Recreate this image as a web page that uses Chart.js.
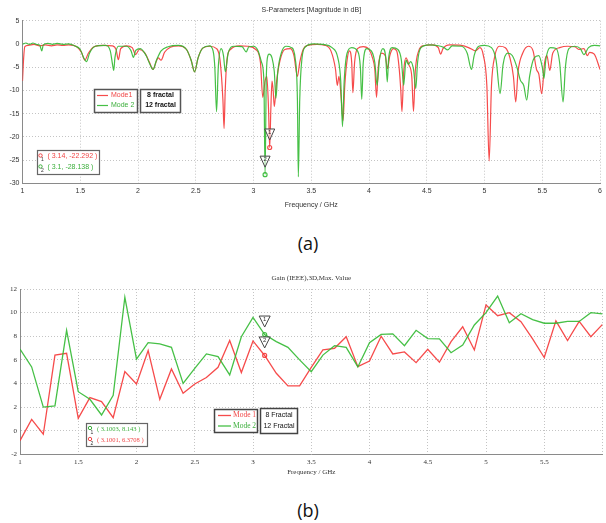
<!DOCTYPE html>
<html><head><meta charset="utf-8">
<script src="https://cdn.jsdelivr.net/npm/chart.js@4.4.1/dist/chart.umd.min.js"></script>
<style>
html,body{margin:0;padding:0;background:#fff;width:606px;height:523px;overflow:hidden;position:relative}
#wa{position:absolute;left:0;top:0;width:606px;height:215px}
#wb{position:absolute;left:0;top:262px;width:606px;height:220px}
.lab{position:absolute;left:5px;width:606px;text-align:center;font:18px/24px "Open Sans",sans-serif;color:#111}
</style></head><body>
<div id="wa"><canvas id="ca" width="606" height="215"></canvas></div>
<div id="wb"><canvas id="cb" width="606" height="220"></canvas></div>
<div class="lab" style="top:231px;">(a)</div>
<div class="lab" style="top:498px;">(b)</div>
<script>
// ---------- Chart (a): S-Parameters, [frequency GHz, dB] ----------
const sMode1 = [
 [1.00,-8.0],[1.01,-3.0],[1.02,-0.6],[1.05,-0.3],[1.10,-0.1],[1.15,-0.4],[1.20,-0.2],[1.25,-0.4],[1.30,-0.2],[1.35,-0.3],
 [1.40,-0.2],[1.47,-0.6],[1.51,-1.8],[1.54,-3.5],[1.57,-2.0],[1.62,-0.6],[1.70,-0.3],[1.78,-0.4],[1.81,-1.2],[1.83,-3.4],
 [1.85,-1.0],[1.90,-0.4],[1.95,-0.8],[1.98,-2.3],[2.01,-1.2],[2.06,-2.0],[2.10,-4.0],[2.13,-5.5],[2.16,-3.6],[2.175,-3.0],
 [2.20,-3.5],[2.23,-1.8],[2.28,-0.7],[2.35,-0.4],[2.42,-1.2],[2.46,-3.5],[2.49,-6.0],[2.52,-3.0],[2.56,-0.9],[2.62,-0.5],
 [2.68,-1.0],[2.71,-3.5],[2.735,-12.0],[2.745,-18.2],[2.755,-10.0],[2.77,-3.5],[2.80,-1.2],[2.88,-0.4],[2.95,-0.5],[3.02,-1.2],
 [3.06,-4.0],[3.08,-11.5],[3.10,-8.0],[3.115,-7.0],[3.13,-14.0],[3.14,-22.3],[3.15,-14.0],[3.16,-8.0],[3.17,-10.0],[3.18,-13.5],
 [3.20,-8.0],[3.23,-3.5],[3.27,-1.2],[3.32,-1.0],[3.35,-2.5],[3.38,-7.0],[3.40,-4.0],[3.43,-1.2],[3.47,-0.3],[3.55,-0.1],
 [3.62,-0.3],[3.67,-1.5],[3.71,-5.5],[3.725,-8.9],[3.74,-7.0],[3.76,-12.0],[3.775,-16.5],[3.79,-9.0],[3.81,-3.5],[3.83,-1.5],
 [3.85,-4.0],[3.86,-10.5],[3.875,-4.0],[3.90,-1.0],[3.95,-0.6],[4.00,-1.2],[4.03,-3.0],[4.05,-5.5],[4.065,-11.5],[4.08,-5.0],
 [4.11,-2.0],[4.14,-2.5],[4.16,-5.3],[4.18,-2.5],[4.21,-1.0],[4.24,-1.5],[4.26,-5.0],[4.275,-10.0],[4.285,-14.6],[4.30,-6.0],
 [4.32,-3.0],[4.345,-4.5],[4.37,-7.0],[4.385,-14.5],[4.40,-6.0],[4.43,-1.5],[4.47,-0.4],[4.55,-0.2],[4.60,-0.8],[4.62,-2.2],
 [4.64,-1.0],[4.70,-0.2],[4.80,-0.3],[4.88,-1.0],[4.92,-1.5],[4.96,-0.8],[4.99,-2.5],[5.02,-9.0],[5.04,-25.2],[5.06,-9.0],
 [5.09,-2.5],[5.13,-0.5],[5.18,-0.8],[5.22,-3.0],[5.25,-7.0],[5.27,-12.5],[5.29,-6.0],[5.33,-2.0],[5.38,-0.5],[5.42,-1.5],
 [5.45,-5.5],[5.47,-6.5],[5.495,-10.7],[5.52,-4.0],[5.54,-2.5],[5.565,-5.7],[5.59,-2.0],[5.65,-0.8],[5.72,-0.5],[5.78,-0.6],
 [5.82,-1.2],[5.86,-1.0],[5.89,-2.5],[5.91,-1.8],[5.95,-2.2],[6.00,-5.5]
];
const sMode2 = [
 [1.00,-0.1],[1.03,0.2],[1.06,-0.1],[1.09,0.2],[1.12,-0.1],[1.15,-0.3],[1.167,-1.5],[1.18,-0.2],[1.22,0.1],[1.26,-0.1],
 [1.30,0.1],[1.35,-0.1],[1.40,0.0],[1.45,-0.4],[1.50,-1.2],[1.53,-3.0],[1.555,-3.8],[1.58,-2.0],[1.63,-0.5],[1.72,-0.3],
 [1.76,-1.5],[1.78,-4.5],[1.79,-5.7],[1.80,-3.0],[1.83,-0.5],[1.90,-0.5],[1.94,-1.5],[1.96,-2.9],[1.98,-1.4],[2.02,-1.0],
 [2.07,-2.5],[2.10,-4.2],[2.13,-5.5],[2.16,-3.5],[2.20,-1.5],[2.26,-0.6],[2.35,-0.3],[2.42,-1.2],[2.46,-3.5],[2.49,-6.0],
 [2.52,-3.0],[2.56,-0.9],[2.62,-0.4],[2.65,-1.5],[2.665,-5.0],[2.68,-14.6],[2.695,-5.0],[2.72,-1.0],[2.74,-2.5],[2.756,-6.0],
 [2.78,-2.0],[2.83,-0.5],[2.90,-0.6],[2.937,-1.7],[2.96,-0.6],[3.00,-0.5],[3.04,-1.5],[3.07,-4.0],[3.09,-8.0],[3.10,-28.1],
 [3.11,-8.0],[3.12,-3.0],[3.135,-2.2],[3.16,-3.0],[3.18,-6.0],[3.194,-11.7],[3.21,-6.0],[3.24,-2.0],[3.28,-0.5],[3.33,-0.8],
 [3.36,-3.0],[3.38,-12.0],[3.388,-28.6],[3.40,-12.0],[3.42,-3.0],[3.45,-0.6],[3.52,0.0],[3.60,-0.1],[3.68,-0.8],[3.73,-3.0],
 [3.755,-8.0],[3.77,-17.8],[3.785,-8.0],[3.81,-2.0],[3.85,-0.8],[3.90,-1.5],[3.925,-5.0],[3.937,-11.9],[3.95,-4.0],[3.98,-1.0],
 [4.02,-1.5],[4.05,-4.0],[4.07,-8.9],[4.09,-3.5],[4.12,-1.0],[4.145,-3.0],[4.158,-8.2],[4.17,-3.0],[4.20,-0.8],[4.25,-1.2],
 [4.28,-3.5],[4.30,-8.9],[4.32,-3.5],[4.34,-4.4],[4.36,-3.8],[4.385,-5.5],[4.405,-9.6],[4.42,-4.0],[4.45,-0.8],[4.52,-0.2],
 [4.60,-0.4],[4.65,-0.8],[4.68,-1.3],[4.72,-0.4],[4.80,-0.5],[4.85,-2.0],[4.887,-5.5],[4.91,-2.5],[4.95,-0.5],[5.00,-0.3],
 [5.06,-0.8],[5.10,-3.5],[5.135,-10.7],[5.16,-4.5],[5.20,-2.0],[5.24,-2.5],[5.28,-5.0],[5.31,-7.8],[5.34,-9.0],[5.365,-12.1],
 [5.39,-7.0],[5.43,-3.0],[5.47,-2.5],[5.50,-5.0],[5.515,-7.4],[5.53,-3.5],[5.57,-0.8],[5.62,-1.0],[5.65,-4.0],[5.68,-12.5],
 [5.70,-5.0],[5.73,-1.0],[5.78,-0.5],[5.83,-1.0],[5.86,-2.3],[5.90,-0.8],[5.95,-0.3],[6.00,-0.4]
];
const markerA_freq = [3.14, 3.1];
const markerA_val  = [-22.292, -28.138];

// ---------- Chart (b): Gain (IEEE) ----------
const gainFreq = [1.0,1.1,1.2,1.3,1.4,1.5,1.6,1.7,1.8,1.9,2.0,2.1,2.2,2.3,2.4,2.5,2.6,2.7,2.8,2.9,3.0,3.1,3.2,3.3,3.4,3.5,3.6,3.7,3.8,3.9,4.0,4.1,4.2,4.3,4.4,4.5,4.6,4.7,4.8,4.9,5.0,5.1,5.2,5.3,5.4,5.5,5.6,5.7,5.8,5.9,6.0];
const gainMode1 = [-0.85,0.96,-0.3,6.4,6.55,1.05,2.8,2.46,1.1,5.0,3.96,6.78,2.66,5.23,3.17,3.95,4.5,5.37,7.63,4.92,7.6,6.37,4.86,3.79,3.8,5.37,6.84,6.98,7.96,5.42,5.9,8.0,6.5,6.67,5.76,6.9,5.8,7.54,8.8,6.84,10.65,9.74,10.0,9.23,7.77,6.2,9.3,7.63,9.25,7.96,9.0];
const gainMode2 = [6.92,5.4,2.0,2.1,8.5,3.3,2.66,1.33,3.0,11.3,6.07,7.45,7.35,7.06,4.0,5.28,6.5,6.27,4.72,7.96,9.6,8.14,7.54,7.06,6.0,5.0,6.4,7.2,7.05,5.4,7.45,8.15,8.2,7.2,8.5,7.8,7.77,6.6,7.25,8.95,10.0,11.4,9.15,9.9,9.4,9.1,9.1,9.25,9.25,10.0,9.9];
const markerB_freq = [3.1003, 3.1001];
const markerB_val  = [8.143, 6.3708];

const RED = 'rgba(245,55,55,0.9)', GREEN = 'rgba(50,185,50,0.9)';
const REDT = 'rgb(240,70,70)', GREENT = 'rgb(60,175,60)';
const SANS = '"Liberation Sans", Arial, sans-serif', SERIF = '"Liberation Serif", serif';

function drawTri(ctx, chart, xv, yv, num, col, hw) {
  const px = chart.scales.x.getPixelForValue(xv), py = chart.scales.y.getPixelForValue(yv);
  ctx.save();
  ctx.beginPath();
  ctx.moveTo(px-hw, py-18.5); ctx.lineTo(px+hw, py-18.5); ctx.lineTo(px, py-7.5); ctx.closePath();
  ctx.fillStyle='rgba(255,255,255,0.6)'; ctx.fill();
  ctx.strokeStyle='#444'; ctx.lineWidth=1; ctx.stroke();
  ctx.fillStyle='#333'; ctx.font='6px '+SANS; ctx.textAlign='center'; ctx.textBaseline='middle';
  ctx.fillText(num, px, py-15);
  ctx.beginPath(); ctx.arc(px, py, 2, 0, Math.PI*2);
  ctx.strokeStyle=col; ctx.lineWidth=1.2; ctx.stroke();
  ctx.restore();
}
function box(ctx, x, y, w, h, lw, col) {
  ctx.save(); ctx.fillStyle='#fff'; ctx.fillRect(x,y,w,h);
  ctx.strokeStyle=col; ctx.lineWidth=lw; ctx.strokeRect(x,y,w,h); ctx.restore();
}
function readout(ctx, x, y, rows, font) {
  ctx.save();
  rows.forEach((r,i)=>{
    const yy = y + i*11;
    ctx.beginPath(); ctx.arc(x, yy, 1.7, 0, Math.PI*2); ctx.strokeStyle=r.col; ctx.lineWidth=1; ctx.stroke();
    ctx.fillStyle='#333'; ctx.font='5px '+SANS; ctx.textAlign='left'; ctx.textBaseline='middle';
    ctx.fillText(r.n, x+0.5, yy+4.5);
    ctx.fillStyle=r.col; ctx.font=font; ctx.fillText(r.t, x+7, yy+1);
  });
  ctx.restore();
}

const overlayA = { id:'overlayA', afterDatasetsDraw(chart){
  const ctx = chart.ctx;
  drawTri(ctx, chart, markerA_freq[0], markerA_val[0], '1', RED, 5);
  drawTri(ctx, chart, markerA_freq[1], markerA_val[1], '2', GREEN, 5);
  // legend
  box(ctx, 94.5, 89.5, 43, 23, 1.5, '#555');
  ctx.save();
  ctx.lineWidth=1.2;
  ctx.strokeStyle=RED; ctx.beginPath(); ctx.moveTo(97,95.5); ctx.lineTo(108,95.5); ctx.stroke();
  ctx.strokeStyle=GREEN; ctx.beginPath(); ctx.moveTo(97,105.5); ctx.lineTo(108,105.5); ctx.stroke();
  ctx.font='7px '+SANS; ctx.textBaseline='middle'; ctx.textAlign='left';
  ctx.fillStyle=REDT; ctx.fillText('Mode1', 111, 95.5);
  ctx.fillStyle=GREENT; ctx.fillText('Mode 2', 111, 105.5);
  ctx.restore();
  box(ctx, 140.5, 89.5, 40, 23, 1.5, '#555');
  ctx.save(); ctx.fillStyle='#111'; ctx.font='bold 7px '+SANS; ctx.textBaseline='middle'; ctx.textAlign='center';
  ctx.fillText('8 fractal', 160.5, 95.5); ctx.fillText('12 fractal', 160.5, 105.5); ctx.restore();
  // readout
  box(ctx, 37.5, 150.5, 62, 24, 1.2, '#666');
  readout(ctx, 40.5, 155.5, [
    {col:REDT, n:'1', t:'( '+markerA_freq[0]+', '+markerA_val[0]+' )'},
    {col:GREENT, n:'2', t:'( '+markerA_freq[1]+', '+markerA_val[1]+' )'}], '7px '+SANS);
}};

const overlayB = { id:'overlayB', afterDatasetsDraw(chart){
  const ctx = chart.ctx;
  drawTri(ctx, chart, markerB_freq[0], markerB_val[0], '1', GREEN, 5.5);
  drawTri(ctx, chart, markerB_freq[1], markerB_val[1], '2', RED, 5.5);
  box(ctx, 214.5, 147.5, 43, 23, 1.5, '#444');
  ctx.save();
  ctx.lineWidth=1.3;
  ctx.strokeStyle=RED; ctx.beginPath(); ctx.moveTo(218,153.5); ctx.lineTo(231,153.5); ctx.stroke();
  ctx.strokeStyle=GREEN; ctx.beginPath(); ctx.moveTo(218,164); ctx.lineTo(231,164); ctx.stroke();
  ctx.font='7.5px '+SERIF; ctx.textBaseline='middle'; ctx.textAlign='left';
  ctx.fillStyle=REDT; ctx.fillText('Mode 1', 233, 153.5);
  ctx.fillStyle=GREENT; ctx.fillText('Mode 2', 233, 164);
  ctx.restore();
  box(ctx, 260.5, 146.5, 37, 25, 1.5, '#444');
  ctx.save(); ctx.fillStyle='#111'; ctx.font='7px '+SANS; ctx.textBaseline='middle'; ctx.textAlign='center';
  ctx.fillText('8 Fractal', 279, 153); ctx.fillText('12 Fractal', 279, 164.5); ctx.restore();
  box(ctx, 86.5, 161.5, 61, 23, 1.2, '#666');
  readout(ctx, 90, 166, [
    {col:GREENT, n:'1', t:'( '+markerB_freq[0]+', '+markerB_val[0]+' )'},
    {col:REDT, n:'2', t:'( '+markerB_freq[1]+', '+markerB_val[1]+' )'}], '6.5px '+SERIF);
}};

const gridCol = '#c4c4c4';
function axisX(fontFam, h, tpad, hideLast) {
  return { type:'linear', min:1, max:6,
    ticks:{ stepSize:0.5, autoSkip:false, maxRotation:0, padding:tpad, color:'#333', font:{family:fontFam,size:7},
      callback:(v)=> (hideLast && v===6) ? '' : String(v) },
    grid:{ color:gridCol, drawTicks:false, lineWidth:1 },
    border:{ color:'#8a8a8a', width:1, dash:[1,2] },
    title:{ display:true, text:'Frequency / GHz', color:'#333', font:{family:fontFam,size:7}, padding:{top:0,bottom:h.tb} },
    afterFit:(s)=>{ s.height = h.h; } };
}
function axisY(fontFam, min, max, step, w) {
  return { min, max,
    ticks:{ stepSize:step, padding:3, color:'#333', font:{family:fontFam,size:7} },
    grid:{ color:gridCol, drawTicks:false, lineWidth:1 },
    border:{ color:'#8a8a8a', width:1, dash:[1,2] },
    afterFit:(s)=>{ s.width = w; } };
}

new Chart(document.getElementById('ca'), {
  type:'line',
  data:{ datasets:[
    { label:'Mode1', data:sMode1.map(p=>({x:p[0],y:p[1]})), borderColor:RED, borderWidth:1.2, pointRadius:0, cubicInterpolationMode:'monotone', order:1 },
    { label:'Mode 2', data:sMode2.map(p=>({x:p[0],y:p[1]})), borderColor:GREEN, borderWidth:1.2, pointRadius:0, cubicInterpolationMode:'monotone', order:0 }
  ]},
  options:{ responsive:false, animation:false, devicePixelRatio:1,
    layout:{ padding:{ left:0, right:3, top:0, bottom:0 } },
    plugins:{ legend:{display:false}, tooltip:{enabled:false},
      title:{ display:true, fullSize:false, text:'S-Parameters [Magnitude in dB]', color:'#333', font:{family:SANS,size:7,weight:'normal'}, padding:{top:5.8,bottom:6.5} } },
    scales:{ x:axisX(SANS,{h:31.7,tb:5.5},4,false), y:axisY(SANS,-30,5,5,22.5) }
  },
  plugins:[overlayA]
});

new Chart(document.getElementById('cb'), {
  type:'line',
  data:{ datasets:[
    { label:'Mode 1', data:gainFreq.map((f,i)=>({x:f,y:gainMode1[i]})), borderColor:RED, borderWidth:1.3, pointRadius:0, tension:0, order:1 },
    { label:'Mode 2', data:gainFreq.map((f,i)=>({x:f,y:gainMode2[i]})), borderColor:GREEN, borderWidth:1.3, pointRadius:0, tension:0, order:0 }
  ]},
  options:{ responsive:false, animation:false, devicePixelRatio:1,
    layout:{ padding:{ left:0, right:0, top:0, bottom:0 } },
    plugins:{ legend:{display:false}, tooltip:{enabled:false},
      title:{ display:true, fullSize:false, text:'Gain (IEEE),3D,Max. Value', color:'#333', font:{family:SERIF,size:7,weight:'normal'}, padding:{top:12.1,bottom:6.5} } },
    scales:{ x:axisX(SERIF,{h:27.7,tb:6.1},3.5,true), y:axisY(SERIF,-2,12,2,20) }
  },
  plugins:[overlayB]
});
</script>
</body></html>
